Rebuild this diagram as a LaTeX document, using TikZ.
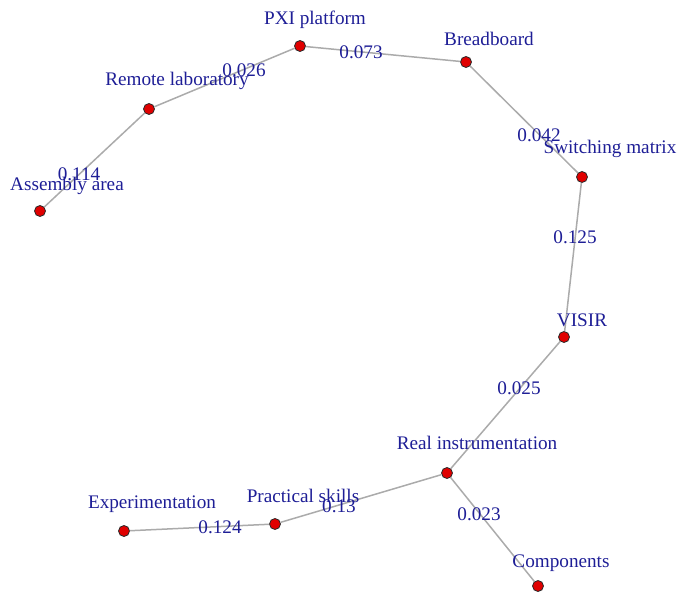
\documentclass[tikz,border=0pt]{standalone}
\usepackage{fontspec}
\setmainfont{Liberation Serif}
\definecolor{labelblue}{HTML}{1E1E96}
\definecolor{nodered}{HTML}{E00000}
\definecolor{edgegray}{HTML}{ABABAB}
\definecolor{rimgray}{HTML}{2A2A2A}

\begin{document}
\begin{tikzpicture}[x=1pt,y=-1pt,
  vertex/.style={circle, fill=nodered, draw=rimgray, line width=0.8pt,
                 minimum size=11pt, inner sep=0pt},
  vlabel/.style={font=\fontsize{19.2}{21}\selectfont, text=labelblue,
                 inner sep=0pt, text height=12.5pt, text depth=0pt},
  elabel/.style={vlabel},
  link/.style={draw=edgegray, line width=1.5pt}]
\useasboundingbox (0,0) rectangle (679,593);
% Vertices
\foreach \nm/\vx/\vy in {asm/40/211, rem/149/109, pxi/300/46, brd/466/62,
    swm/582/177, vis/564/337, rin/447/473, prs/275/524, exp/124/531, cmp/538/586}{
  \node[vertex] (\nm) at (\vx,\vy) {};
}
% Links with their weights
\foreach \a/\b/\w/\lx/\ly in {asm/rem/0.114/79/174, rem/pxi/0.026/244/70,
    pxi/brd/0.073/361/52, brd/swm/0.042/539/135, swm/vis/0.125/575/237,
    vis/rin/0.025/519/388, rin/prs/0.13/339/506, prs/exp/0.124/220/527,
    rin/cmp/0.023/479/514}{
  \draw[link] (\a) -- (\b);
  \node[elabel] (w-\a-\b) at (\lx,\ly) {\w};
}
% Vertex names
\foreach \nm/\lx/\ly/\txt in {asm/67/184/Assembly area, rem/177/79/Remote laboratory,
    pxi/315/18/PXI platform, brd/489/39/Breadboard, swm/610/147/Switching matrix,
    vis/582/320/VISIR, rin/477/443/Real instrumentation, prs/303/496/Practical skills,
    exp/152/502/Experimentation, cmp/561/561/Components}{
  \node[vlabel] (\nm-name) at (\lx,\ly) {\txt};
}
\end{tikzpicture}
\end{document}
